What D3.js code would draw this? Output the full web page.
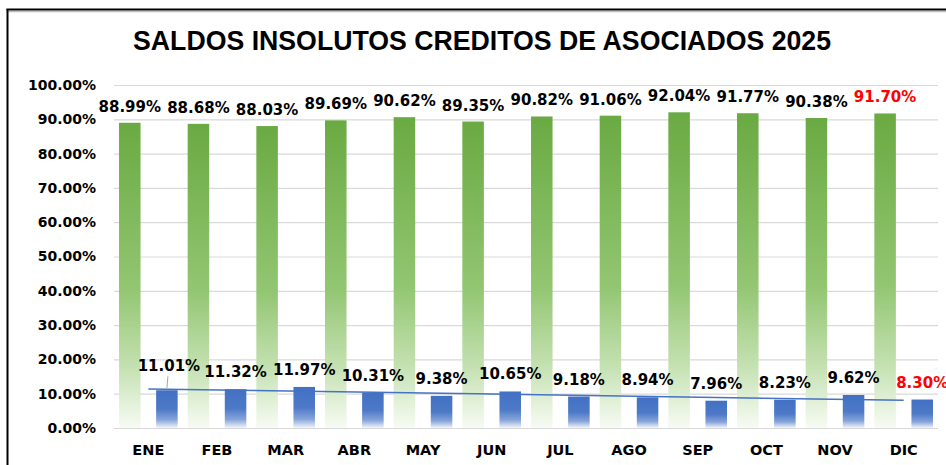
<!DOCTYPE html>
<html>
<head>
<meta charset="utf-8">
<script src="https://cdn.jsdelivr.net/npm/d3@7"></script>
<style>
  body { margin: 0; background: #fff; }
  text { font-family: "DejaVu Sans", Verdana, sans-serif; font-weight: bold; }
  .title { font-family: "Liberation Sans", Arial, sans-serif; }
</style>
</head>
<body>
<svg id="chart" width="946" height="465"></svg>
<script>
// data
const months = ["ENE", "FEB", "MAR", "ABR", "MAY", "JUN", "JUL", "AGO", "SEP", "OCT", "NOV", "DIC"];
const greenValues = [88.99, 88.68, 88.03, 89.69, 90.62, 89.35, 90.82, 91.06, 92.04, 91.77, 90.38, 91.70];
const blueValues = [11.01, 11.32, 11.97, 10.31, 9.38, 10.65, 9.18, 8.94, 7.96, 8.23, 9.62, 8.30];
const yTicks = [0, 10, 20, 30, 40, 50, 60, 70, 80, 90, 100];

const svg = d3.select("#chart");
const width = +svg.attr("width");
const height = +svg.attr("height");

const margin = { top: 85, right: width - 938, bottom: height - 428, left: 114 };
const innerWidth = width - margin.left - margin.right;
const innerHeight = height - margin.top - margin.bottom;

// gradients, one per series (per bar via bounding box)
const defs = svg.append("defs");
const gGreen = defs.append("linearGradient").attr("id", "gradGreen")
  .attr("x1", 0).attr("y1", 0).attr("x2", 0).attr("y2", 1);
gGreen.append("stop").attr("offset", "0%").attr("stop-color", "#6aaa42");
gGreen.append("stop").attr("offset", "55%").attr("stop-color", "#93c672");
gGreen.append("stop").attr("offset", "80%").attr("stop-color", "#c4e1b1");
gGreen.append("stop").attr("offset", "100%").attr("stop-color", "#f7fbf4");

const gBlue = defs.append("linearGradient").attr("id", "gradBlue")
  .attr("x1", 0).attr("y1", 0).attr("x2", 0).attr("y2", 1);
gBlue.append("stop").attr("offset", "0%").attr("stop-color", "#4270c3");
gBlue.append("stop").attr("offset", "50%").attr("stop-color", "#4d79c7");
gBlue.append("stop").attr("offset", "78%").attr("stop-color", "#86a4d9");
gBlue.append("stop").attr("offset", "100%").attr("stop-color", "#f2f5fb");

// frame of the chart area (top and left edges only are visible)
svg.append("line").attr("x1", 8).attr("x2", width).attr("y1", 11.5).attr("y2", 11.5)
  .attr("stroke", "#bdbdbd").attr("stroke-width", 1.5);
svg.append("line").attr("x1", 6.5).attr("x2", width).attr("y1", 9.5).attr("y2", 9.5)
  .attr("stroke", "#000").attr("stroke-width", 2);
svg.append("line").attr("x1", 7.5).attr("x2", 7.5).attr("y1", 9).attr("y2", height)
  .attr("stroke", "#000").attr("stroke-width", 2);

svg.append("text")
  .attr("class", "title")
  .attr("x", 133).attr("y", 50)
  .attr("textLength", 698).attr("lengthAdjust", "spacingAndGlyphs")
  .attr("font-size", 27)
  .attr("fill", "#000")
  .text("SALDOS INSOLUTOS CREDITOS DE ASOCIADOS 2025");

const a = svg.append("g").attr("transform", `translate(${margin.left}, ${margin.top})`);

const xScale = d3.scaleBand().domain(months).range([0, innerWidth]);
const xSeries = d3.scaleBand().domain(["g", "b"]).range([0, xScale.bandwidth()])
  .paddingInner(0.42).paddingOuter(0.135);
const yScale = d3.scaleLinear().domain([0, 100]).range([innerHeight, 0]);

// y axis with gridlines
const yAxis = d3.axisLeft(yScale)
  .tickValues(yTicks)
  .tickSize(-innerWidth)
  .tickPadding(18)
  .tickFormat(d => d.toFixed(2) + "%");
const yAxisG = a.append("g").call(yAxis);
yAxisG.select(".domain").remove();
yAxisG.selectAll(".tick line").attr("stroke", "#d9d9d9").attr("stroke-width", 1.2);
yAxisG.selectAll(".tick text").attr("font-size", 14).attr("fill", "#000");

// x axis (labels only)
const xAxis = d3.axisBottom(xScale).tickSize(0).tickPadding(17);
const xAxisG = a.append("g").attr("transform", `translate(0, ${innerHeight})`).call(xAxis);
xAxisG.select(".domain").remove();
xAxisG.selectAll(".tick text").attr("font-size", 14.5).attr("fill", "#000");

const rows = months.map((m, i) => ({ m: m, g: greenValues[i], b: blueValues[i], last: i === months.length - 1 }));

// green bars
a.selectAll("rect.green").data(rows).enter().append("rect")
  .attr("class", "green")
  .attr("x", d => xScale(d.m) + xSeries("g"))
  .attr("y", d => yScale(d.g))
  .attr("width", xSeries.bandwidth())
  .attr("height", d => innerHeight - yScale(d.g))
  .attr("fill", "url(#gradGreen)");

// blue bars
a.selectAll("rect.blue").data(rows).enter().append("rect")
  .attr("class", "blue")
  .attr("x", d => xScale(d.m) + xSeries("b"))
  .attr("y", d => yScale(d.b))
  .attr("width", xSeries.bandwidth())
  .attr("height", d => innerHeight - yScale(d.b))
  .attr("fill", "url(#gradBlue)");

// linear trend of the blue series
const n = blueValues.length;
const xm = d3.mean(blueValues, (d, i) => i);
const ym = d3.mean(blueValues);
const slope = d3.sum(blueValues, (d, i) => (i - xm) * (d - ym)) / d3.sum(blueValues, (d, i) => (i - xm) * (i - xm));
const trend = d3.line()
  .x(d => xScale(months[d]) + xScale.bandwidth() / 2)
  .y(d => yScale(ym + slope * (d - xm)));
a.append("path").datum([0, n - 1])
  .attr("d", trend)
  .attr("fill", "none")
  .attr("stroke", "#4472c4")
  .attr("stroke-width", 1.5);

// labels
a.selectAll("text.glabel").data(rows).enter().append("text")
  .attr("class", "glabel")
  .attr("x", d => xScale(d.m) + xSeries("g") + xSeries.bandwidth() / 2)
  .attr("y", d => yScale(d.g) - 11)
  .attr("text-anchor", "middle")
  .attr("font-size", 15)
  .attr("fill", d => d.last ? "#ff0000" : "#000")
  .text(d => d.g.toFixed(2) + "%");

const blueOffset = d => d.m === "ENE" ? 19 : 12;
a.selectAll("text.blabel").data(rows).enter().append("text")
  .attr("class", "blabel")
  .attr("x", d => xScale(d.m) + xSeries("b") + xSeries.bandwidth() / 2 + (d.m === "ENE" ? 2 : 0))
  .attr("y", d => yScale(d.b) - blueOffset(d))
  .attr("text-anchor", "middle")
  .attr("font-size", 15)
  .attr("fill", d => d.last ? "#ff0000" : "#000")
  .text(d => d.b.toFixed(2) + "%");

// leader line for the moved ENE label
const ene = rows[0];
a.append("line")
  .attr("x1", xScale(ene.m) + xSeries("b") + xSeries.bandwidth() / 2 + 1)
  .attr("x2", xScale(ene.m) + xSeries("b") + xSeries.bandwidth() / 2)
  .attr("y1", yScale(ene.b) - 14)
  .attr("y2", yScale(ene.b) - 2)
  .attr("stroke", "#a6a6a6").attr("stroke-width", 1);
</script>
</body>
</html>
